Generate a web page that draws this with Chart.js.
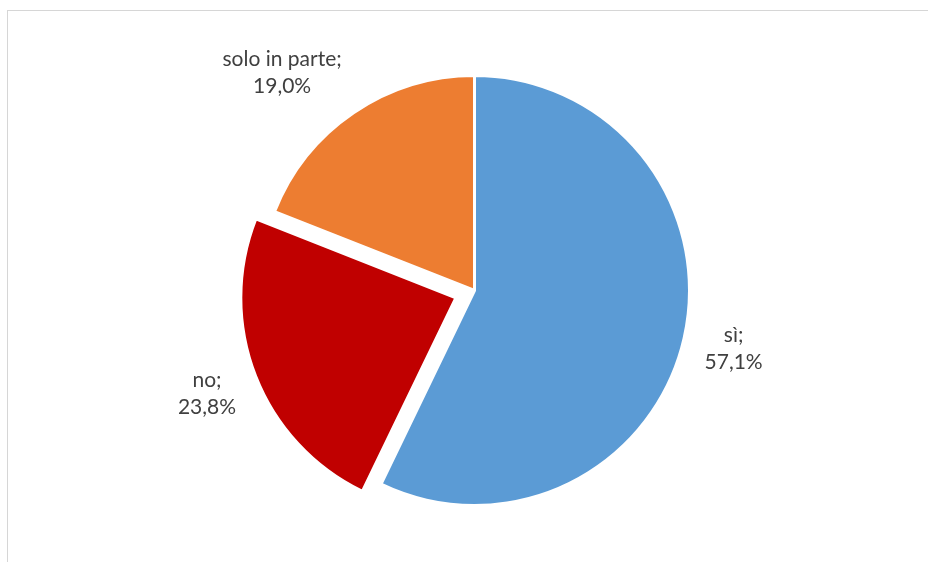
<!DOCTYPE html>
<html lang="it">
<head>
<meta charset="utf-8">
<title>Risposte</title>
<script src="https://cdn.jsdelivr.net/npm/chart.js@4.4.1/dist/chart.umd.min.js"></script>
<style>
  html, body { margin: 0; padding: 0; background: #ffffff; }
  #wrap { position: relative; width: 928px; height: 562px; overflow: hidden; }
  #frame {
    position: absolute; left: 7px; top: 10px; width: 1000px; height: 700px;
    border-top: 1px solid #d6d6d6; border-left: 1px solid #d6d6d6;
  }
  #chart { position: absolute; left: 0; top: 0; }
</style>
</head>
<body>
<div id="wrap">
  <div id="frame"></div>
  <canvas id="chart" width="928" height="562"></canvas>
</div>
<script>
// Categories and shares (percent)
const categories = ['sì', 'no', 'solo in parte'];
const shares = [57.1, 23.8, 19.0];
const sliceColors = ['#5B9BD5', '#C00000', '#ED7D31'];
// The "no" slice is pulled out of the pie (Chart.js moves an arc by offset / 4)
const sliceOffsets = [0, 80, 0];

const fmtPct = v => v.toFixed(1).replace('.', ',') + '%';

// Two-line labels ("categoria;" / "xx,x%") placed outside each slice
const outsideLabels = {
  id: 'outsideLabels',
  afterDatasetsDraw(chart) {
    const ctx = chart.ctx;
    const meta = chart.getDatasetMeta(0);
    const fontSize = 21, lineH = 27, pad = 21;
    ctx.save();
    ctx.font = fontSize + 'px Lato, "Liberation Sans", sans-serif';
    ctx.fillStyle = '#404040';
    ctx.textAlign = 'center';
    ctx.textBaseline = 'middle';
    meta.data.forEach((arc, i) => {
      const p = arc.getProps(['x', 'y', 'startAngle', 'endAngle', 'outerRadius'], true);
      const mid = (p.startAngle + p.endAngle) / 2;
      const shift = (arc.options.offset || 0) / 4;
      const lines = [categories[i] + ';', fmtPct(shares[i])];
      const w = Math.max(...lines.map(t => ctx.measureText(t).width));
      const h = lineH * lines.length;
      const r = p.outerRadius + shift + pad;
      const c = Math.cos(mid), s = Math.sin(mid);
      const cx = p.x + c * r + Math.sign(c) * w / 2;
      const cy = p.y + s * r + s * h / 2;
      lines.forEach((t, k) => {
        ctx.fillText(t, cx, cy - h / 2 + lineH * (k + 0.5));
      });
    });
    ctx.restore();
  }
};

new Chart(document.getElementById('chart'), {
  type: 'pie',
  data: {
    labels: categories,
    datasets: [{
      data: shares,
      backgroundColor: sliceColors,
      borderColor: '#ffffff',
      borderWidth: 3,
      hoverBorderWidth: 3,
      offset: sliceOffsets,
      hoverOffset: 0
    }]
  },
  options: {
    responsive: false,
    animation: false,
    events: [],
    layout: { padding: { top: 34, bottom: 15, left: 21, right: 0 } },
    plugins: {
      legend: { display: false },
      tooltip: { enabled: false },
      title: { display: false }
    }
  },
  plugins: [outsideLabels]
});
</script>
</body>
</html>
